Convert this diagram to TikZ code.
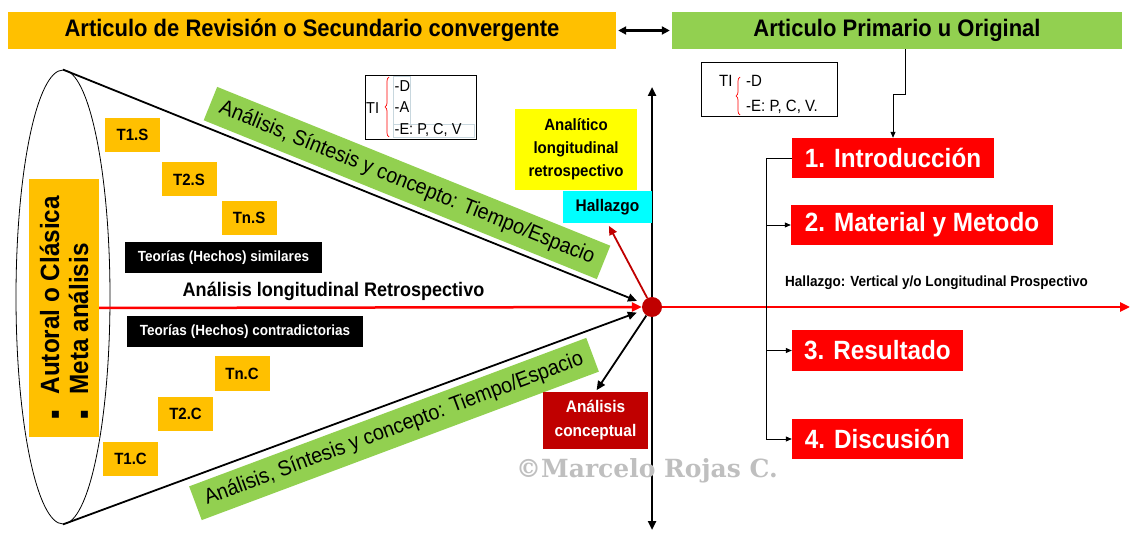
\documentclass[tikz,border=0pt]{standalone}
\usepackage{fontspec}
\setmainfont{Liberation Sans}[FakeStretch=0.92]
\newfontfamily\symfont{DejaVu Sans}
\newfontfamily\markfont{DejaVu Serif}
\usetikzlibrary{arrows.meta,shapes.geometric,decorations.pathreplacing}
\definecolor{GoldBar}{RGB}{255,192,0}
\definecolor{LeafGreen}{RGB}{146,208,80}
\definecolor{DarkRed}{RGB}{192,0,0}
\definecolor{PureRed}{RGB}{255,0,0}
\definecolor{PureYellow}{RGB}{255,255,0}
\definecolor{PureCyan}{RGB}{0,255,255}
\definecolor{CellGray}{RGB}{200,215,222}
\definecolor{MarkGray}{RGB}{191,191,191}

\begin{document}
\begin{tikzpicture}[x=1pt,y=1pt,yscale=-1,xscale=1,
	bar/.style={inner sep=0pt, font=\bfseries\fontsize{23.9}{28}\selectfont},
	tag/.style={fill=GoldBar, inner sep=0pt, minimum width=55, minimum height=34, font=\bfseries\fontsize{16.3}{19}\selectfont},
	theory/.style={fill=black, text=white, inner sep=0pt, minimum height=31, font=\bfseries\fontsize{14.7}{17}\selectfont},
	band/.style={fill=LeafGreen, inner sep=0pt, minimum width=424, minimum height=36, font=\fontsize{21.4}{24}\selectfont},
	part/.style={fill=PureRed, text=white, inner sep=0pt, minimum height=40, font=\bfseries\fontsize{26.4}{30}\selectfont},
	note/.style={anchor=west, inner sep=0pt, font=\fontsize{15.8}{18}\selectfont},
	cell/.style={draw=CellGray, line width=0.6pt},
	curly/.style={draw=PureRed, line width=0.7pt, decorate, decoration={brace, amplitude=4pt}},
	link/.style={draw=black, line width=0.8pt, -{Triangle[length=6pt,width=5pt]}},
	ray/.style={line width=1.8pt, -{Triangle[length=9pt,width=8pt]}},
	redray/.style={draw=PureRed, line width=2.5pt, -{Triangle[length=10pt,width=9pt]}}
	]
	\useasboundingbox (0,0) rectangle (1132,534);

	% Title bars on top
	\node[bar, fill=GoldBar, minimum width=608, minimum height=37] (revision) at (312,30.5) {Articulo de Revisión o Secundario convergente};
	\node[bar, fill=LeafGreen, minimum width=450, minimum height=37] (primario) at (897,30.5) {Articulo Primario u Original};
	\draw[line width=2.5pt, {Triangle[length=8pt,width=8pt]}-{Triangle[length=8pt,width=8pt]}, shorten <=2pt, shorten >=2pt] (revision) -- (primario);

	% Vertical axis through the meeting point
	\coordinate (axtop) at (652,87);
	\coordinate (axbot) at (652,530);
	\draw[line width=2.5pt, {Triangle[length=9pt,width=8pt]}-{Triangle[length=9pt,width=8pt]}] (axbot) -- (axtop);

	% The cone and its meeting point
	\node[draw, ellipse, line width=0.8pt, minimum width=94, minimum height=454] (cone) at (63,297) {};
	\node[circle, fill=DarkRed, minimum size=20, inner sep=0pt] (dot) at (652,307) {};

	% Left box "Autoral o Clasica / Meta analisis"
	\node[fill=GoldBar, rotate=90, inner sep=0pt, minimum width=258, minimum height=70, align=left, font=\bfseries\fontsize{26.4}{29}\selectfont] (autoral) at (64,308)
		{{\symfont\fontsize{14}{14}\selectfont ▪}\hspace{16pt}Autoral o Clásica\\{\symfont\fontsize{14}{14}\selectfont ▪}\hspace{16pt}Meta análisis};

	% Theories on the similar side
	\node[tag] (t1s) at (132.5,135) {T1.S};
	\node[tag] (t2s) at (189,179.5) {T2.S};
	\node[tag] (tns) at (249,218) {Tn.S};
	\node[theory, minimum width=197] (similar) at (223.5,257.5) {Teorías (Hechos) similares};

	% Theories on the contradictory side
	\node[theory, minimum width=236] (contra) at (245,331.5) {Teorías (Hechos) contradictorias};
	\node[tag] (tnc) at (242,373.5) {Tn.C};
	\node[tag] (t2c) at (185.5,414) {T2.C};
	\node[tag] (t1c) at (130.5,459) {T1.C};

	\node[inner sep=0pt, font=\bfseries\fontsize{19.6}{23}\selectfont] (retro) at (333.5,291) {Análisis longitudinal Retrospectivo};

	% Green bands along the cone
	\node[band, rotate=-22] (bandtop) at (407,183) {Análisis, Síntesis y concepto: Tiempo/Espacio};
	\node[band, rotate=20.5] (bandbot) at (394,429) {Análisis, Síntesis y concepto: Tiempo/Espacio};

	% Cone edges and red time line
	\draw[ray, shorten >=6pt] (cone.north) -- (dot);
	\draw[ray, shorten >=6pt] (cone.south) -- (dot);
	\draw[redray] (autoral.south) -- (dot);
	\coordinate (farend) at (1130,307);
	\draw[redray] (dot) -- (farend);

	% TI box (left)
	\node[draw, line width=0.8pt, minimum width=111, minimum height=64, inner sep=0pt] (tiboxL) at (420.5,107) {};
	\draw[cell] (393,76) rectangle (410,124);
	\draw[cell] (393,124) rectangle (474,137);
	\node[note] (tiL) at (366,108) {TI};
	\node[note] (dL) at (394.5,86) {-D};
	\node[note] (aL) at (394.5,107) {-A};
	\node[note] (eL) at (394.5,130) {-E: P, C, V};
	\draw[curly] (389,137) -- (389,77);

	% Boxes around the meeting point
	\node[fill=PureYellow, inner sep=0pt, minimum width=122, minimum height=81, align=center, font=\bfseries\fontsize{16.3}{23}\selectfont] (analit) at (576,149.5) {Analítico\\longitudinal\\retrospectivo};
	\node[fill=PureCyan, inner sep=0pt, minimum width=89, minimum height=32, font=\bfseries\fontsize{16.8}{19}\selectfont] (hall) at (607.5,207) {Hallazgo};
	\node[fill=DarkRed, text=white, inner sep=0pt, minimum width=105, minimum height=57, align=center, font=\bfseries\fontsize{16.8}{24}\selectfont] (concep) at (595.5,420.5) {Análisis\\conceptual};
	\draw[ray, DarkRed, shorten >=3pt] (dot) -- (hall.south);
	\draw[ray, shorten >=2pt] (dot) -- (concep.north);

	% Watermark
	\node[text=MarkGray, inner sep=0pt, font=\markfont\bfseries\fontsize{25}{30}\selectfont] (mark) at (647,471) {©Marcelo Rojas C.};

	% TI box (right)
	\node[draw, line width=0.8pt, minimum width=136, minimum height=54, inner sep=0pt] (tiboxR) at (769,89) {};
	\node[note, font=\fontsize{16.3}{19}\selectfont] (tiR) at (719,81) {TI};
	\node[note, font=\fontsize{16.3}{19}\selectfont] (dR) at (746,81) {-D};
	\node[note, font=\fontsize{16.3}{19}\selectfont] (eR) at (746,107) {-E: P, C, V.};
	\draw[curly] (740,115) -- (740,77);

	% Parts of the original article
	\node[part, minimum width=202] (intro) at (893,158) {1. Introducción};
	\node[part, minimum width=262] (metodo) at (922,225) {2. Material y Metodo};
	\node[part, minimum width=171] (result) at (877.5,350.5) {3. Resultado};
	\node[part, minimum width=171] (disc) at (877.5,439) {4. Discusión};
	\node[inner sep=0pt, font=\bfseries\fontsize{14.7}{17}\selectfont] (prosp) at (936.5,283) {Hallazgo: Vertical y/o Longitudinal Prospectivo};

	% Connectors on the right
	\draw[link] ([xshift=8pt]primario.south) -- ++(0,45) -| (intro.north);
	\draw[link] (intro.west) -- ++(-25,0) coordinate (fork) |- (disc.west);
	\draw[link] (fork |- metodo.west) -- (metodo.west);
	\draw[link] (fork |- result.west) -- (result.west);
\end{tikzpicture}
\end{document}
